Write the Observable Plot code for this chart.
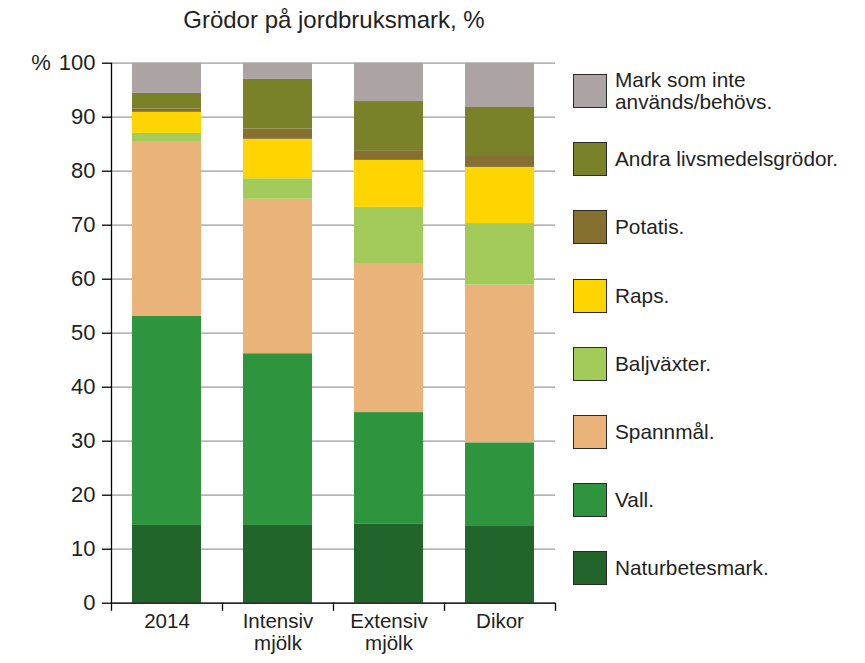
<!DOCTYPE html>
<html><head><meta charset="utf-8">
<script src="https://cdn.jsdelivr.net/npm/d3@7"></script>
<script src="https://cdn.jsdelivr.net/npm/@observablehq/plot@0.6"></script>
<style>
body{margin:0;background:#fff;font-family:"Liberation Sans",Arial,sans-serif;color:#231f20}
#wrap{position:relative;width:865px;height:663px;overflow:hidden}
#title{position:absolute;left:0;width:668px;top:6px;text-align:center;font-size:24px;line-height:28px}
#chart{position:absolute;left:0;top:0}
.item{position:absolute;left:573px;width:290px;height:34px}
.sw{position:absolute;left:0;top:0;width:32px;height:32px;border:1px solid #2a2a2a}
.lab{position:absolute;left:42px;font-size:20.8px;white-space:pre;line-height:22px;top:50%;transform:translateY(-50%)}
</style></head>
<body><div id="wrap"><div id="title">Grödor på jordbruksmark, %</div><div id="chart"></div><div id="legend"></div></div>
<script>
// Scenarios (x categories)
const scenarios = ["2014", "Intensiv\nmjölk", "Extensiv\nmjölk", "Dikor"];
// Crops, bottom to top of the stack
const crops = ["Naturbetesmark.", "Vall.", "Spannmål.", "Baljväxter.", "Raps.", "Potatis.", "Andra livsmedelsgrödor.", "Mark som inte\nanvänds/behövs."];
const colors = ["#22652a", "#2e943e", "#e9b37a", "#a2cb5a", "#ffd500", "#86702f", "#7a8229", "#aca4a2"];
// Values (% of farmland) per crop, one entry per scenario
const naturbetesmark = [14.4, 14.4, 14.6, 14.2];
const vall = [38.7, 31.8, 20.7, 15.5];
const spannmal = [32.4, 28.6, 27.6, 29.2];
const baljvaxter = [1.5, 3.8, 10.4, 11.4];
const raps = [3.9, 7.3, 8.7, 10.4];
const potatis = [0.6, 1.9, 1.8, 2.2];
const andra = [2.9, 9.2, 9.1, 8.9];
const markEjAnvand = [5.6, 3.0, 7.1, 8.2];
// Y tick values
const yTicks = [0, 10, 20, 30, 40, 50, 60, 70, 80, 90, 100];

const series = [naturbetesmark, vall, spannmal, baljvaxter, raps, potatis, andra, markEjAnvand];
const data = [];
crops.forEach((c, i) => scenarios.forEach((s, j) => data.push({scenario: s, crop: c, value: series[i][j]})));

const W = 560, H = 663;
const chart = Plot.plot({
  width: W, height: H,
  marginTop: 62.7, marginBottom: 60.3, marginLeft: 111, marginRight: 5,
  style: {fontFamily: '"Liberation Sans", Arial, sans-serif', color: "#231f20", background: "transparent", overflow: "visible"},
  x: {domain: scenarios, paddingInner: 0.38, paddingOuter: 0.19},
  y: {domain: [0, 100]},
  color: {domain: crops, range: colors},
  marks: [
    Plot.gridY(yTicks, {stroke: "#9a9a9a", strokeOpacity: 1, strokeWidth: 1.2}),
    Plot.barY(data, {x: "scenario", y: "value", fill: "crop", order: crops}),
    Plot.ruleY([0], {stroke: "#000", strokeWidth: 1.3}),
    // left axis line (with first category boundary tick)
    Plot.ruleX([scenarios[0]], {x: d => d, y1: -1.5, y2: 100, dx: -55.5, stroke: "#000", strokeWidth: 1.3}),
    // category boundary ticks
    Plot.ruleX(scenarios.slice(1), {x: d => d, y1: -1.5, y2: 0, dx: -55.5, stroke: "#000", strokeWidth: 1.3}),
    Plot.ruleX([scenarios[scenarios.length - 1]], {x: d => d, y1: -1.5, y2: 0, dx: 55.5, stroke: "#000", strokeWidth: 1.3}),
    Plot.axisY(yTicks, {tickSize: 9, tickPadding: 7, fontSize: 22, stroke: "#000", strokeWidth: 1.3,
      tickFormat: d => d === 100 ? "% \u200A100" : String(d), label: null}),
    Plot.axisX({tickSize: 0, tickPadding: 10, fontSize: 20.5, label: null, lineHeight: 1.05})
  ]
});
document.getElementById("chart").appendChild(chart);

const legend = document.getElementById("legend");
const order = crops.map((c, i) => i).reverse();
order.forEach((ci, k) => {
  const item = document.createElement("div");
  item.className = "item";
  item.style.top = (74 + 68.2 * k) + "px";
  const sw = document.createElement("div");
  sw.className = "sw"; sw.style.background = colors[ci];
  const lab = document.createElement("div");
  lab.className = "lab"; lab.textContent = crops[ci];
  item.appendChild(sw); item.appendChild(lab);
  legend.appendChild(item);
});
</script></body></html>
